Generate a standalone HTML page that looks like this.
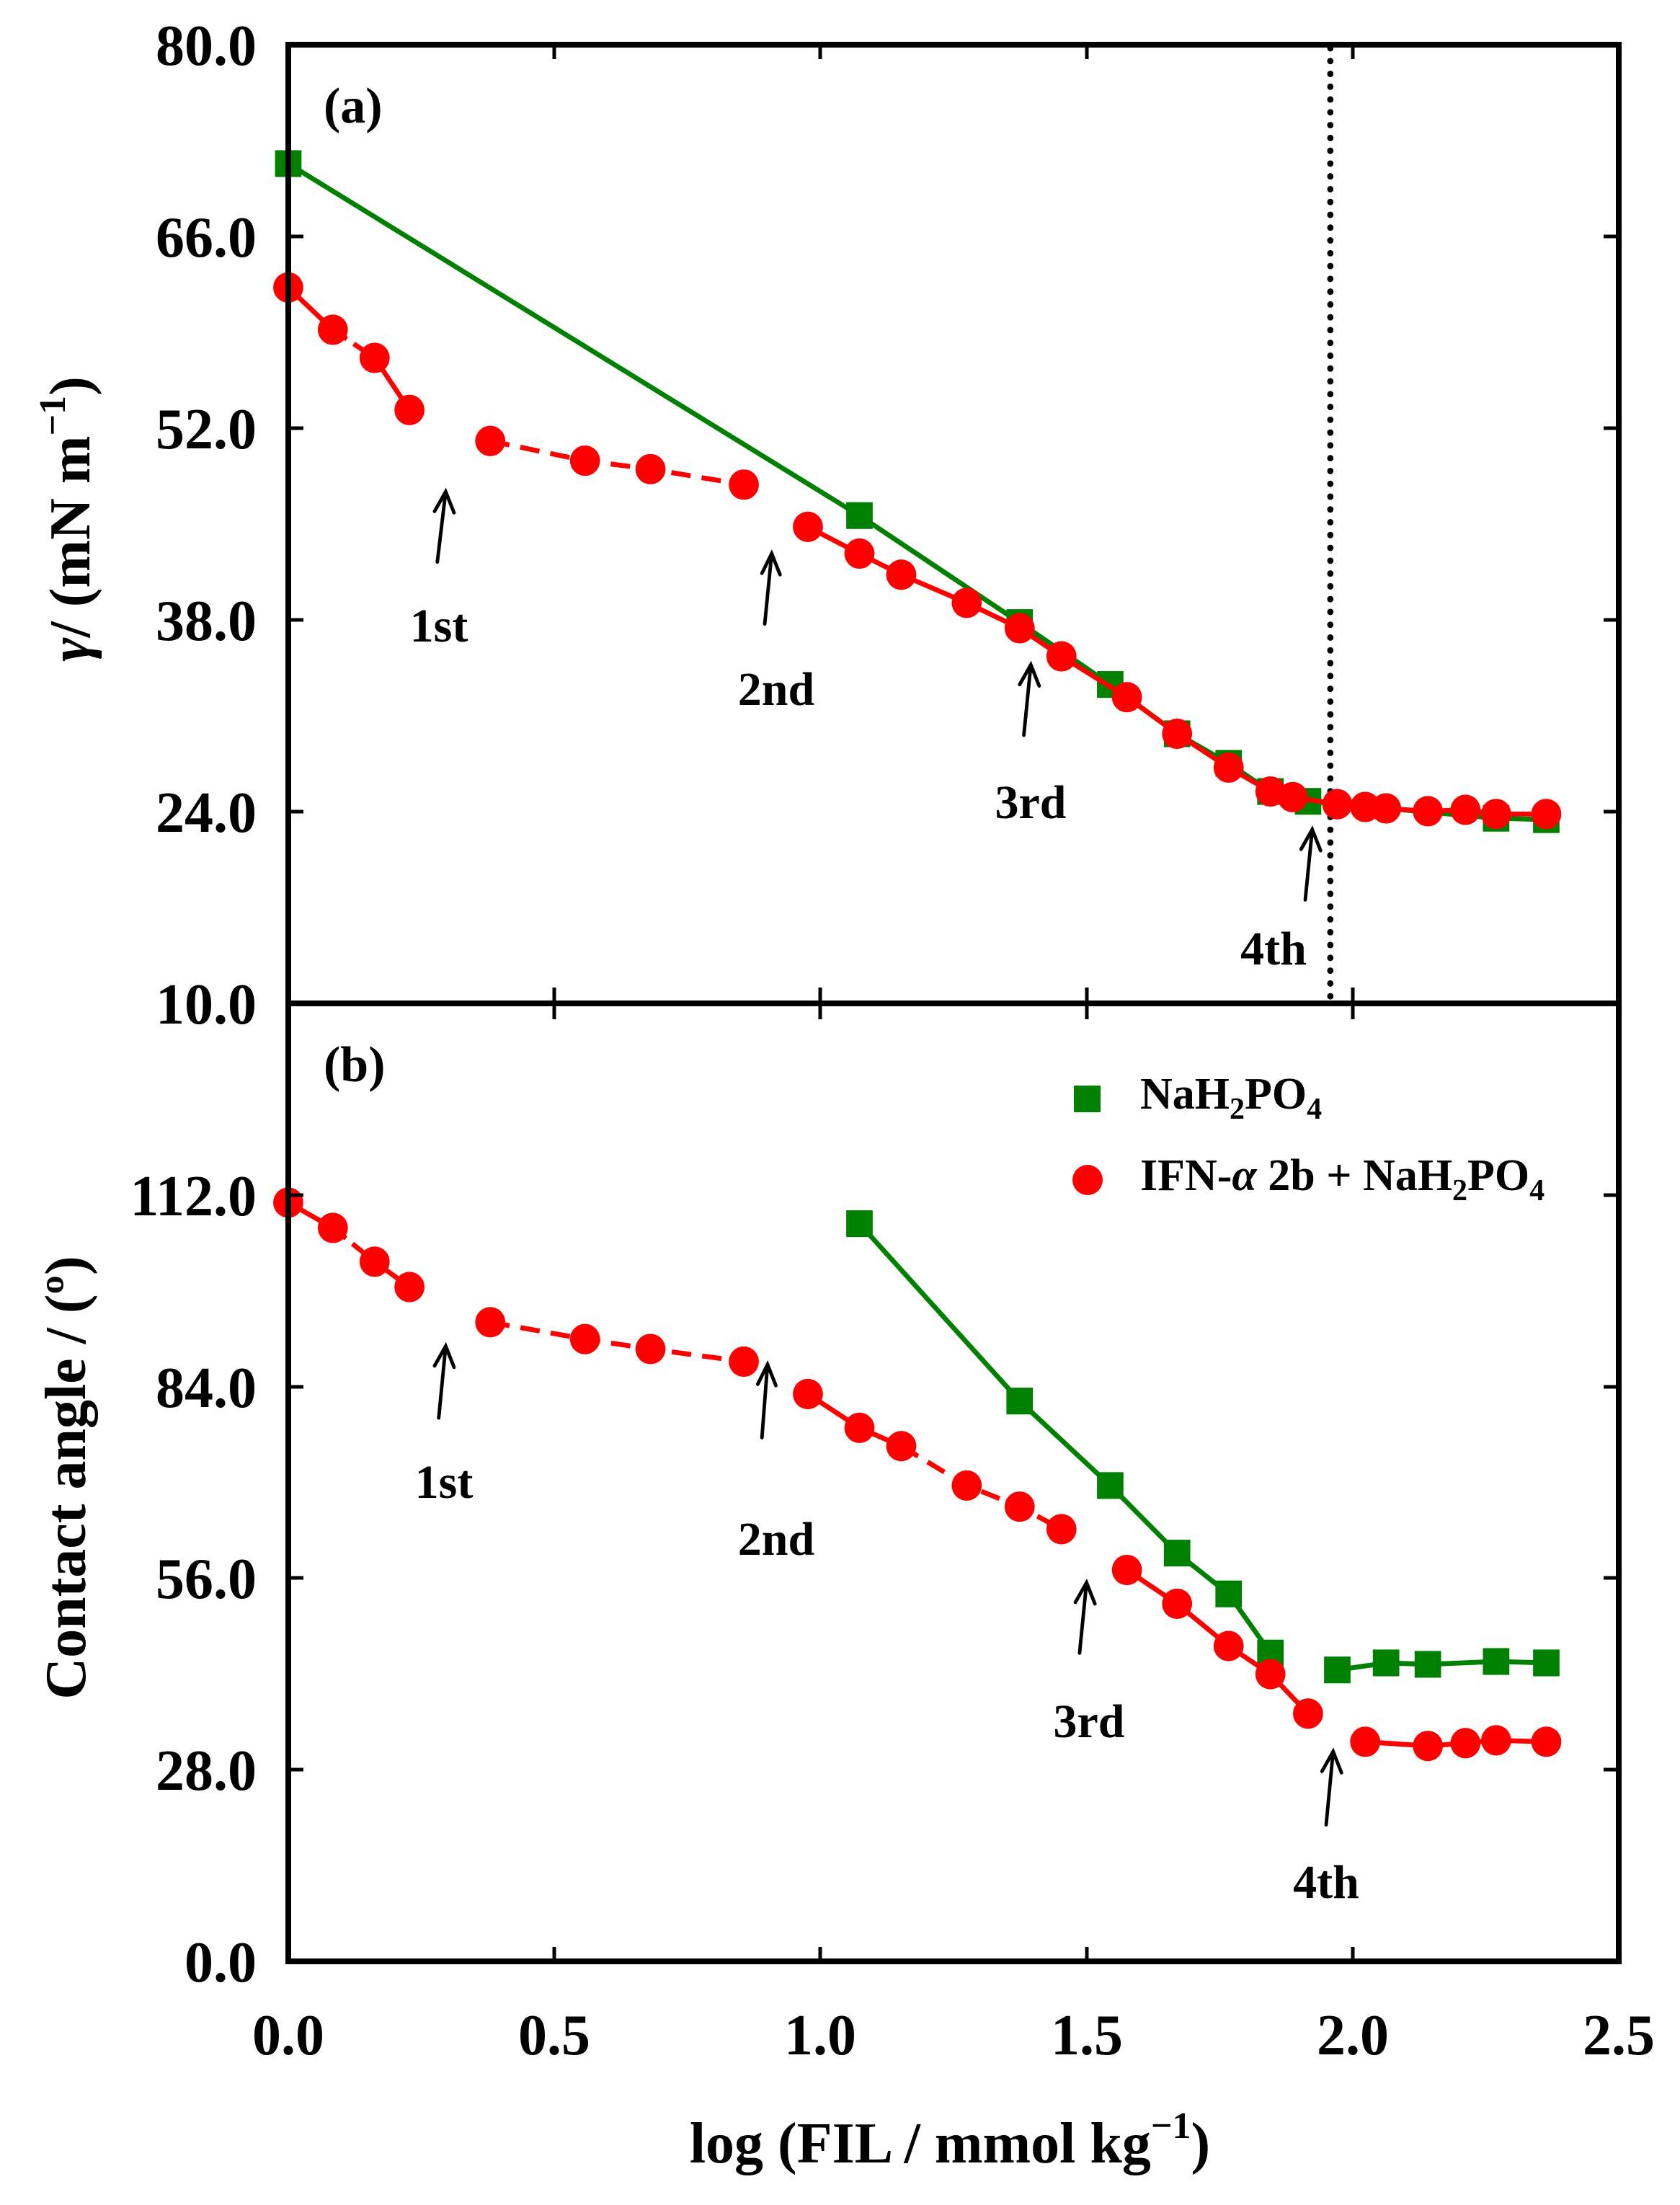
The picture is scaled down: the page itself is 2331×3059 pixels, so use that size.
<!DOCTYPE html>
<html><head><meta charset="utf-8"><style>
html,body{margin:0;padding:0;background:#fff}
svg{display:block}
text{font-family:"Liberation Serif",serif;font-weight:bold;fill:#000}
</style></head><body>
<svg width="2331" height="3059" viewBox="0 0 2331 3059" xmlns="http://www.w3.org/2000/svg">
<rect width="2331" height="3059" fill="#fff"/>

<g transform="matrix(1.933 0 0 1.953 3.7 -1.5)">
 <line x1="953" y1="35" x2="953" y2="713" stroke="#000" stroke-width="4.5" stroke-dasharray="0.1 9" stroke-linecap="round"/>
 <polyline fill="none" stroke="#008000" stroke-width="3.5" points="205,117 615,367 730,443 795,487 843,522 880,543 910,563 937,570 1072,582 1108,583"/>
 <g fill="#008000">
  <rect x="195.5" y="107.5" width="19" height="19"/><rect x="605.5" y="357.5" width="19" height="19"/>
  <rect x="720.5" y="433.5" width="19" height="19"/><rect x="785.5" y="477.5" width="19" height="19"/>
  <rect x="833.5" y="512.5" width="19" height="19"/><rect x="870.5" y="533.5" width="19" height="19"/>
  <rect x="900.5" y="553.5" width="19" height="19"/><rect x="927.5" y="560.5" width="19" height="19"/>
  <rect x="1062.5" y="572.5" width="19" height="19"/><rect x="1098.5" y="573.5" width="19" height="19"/>
 </g>
 <g fill="none" stroke="#f00" stroke-width="3.5">
  <polyline points="205,205 237,235"/>
  <polyline points="237,235 267,255" stroke-dasharray="12 6"/>
  <polyline points="267,255 292,292"/>
  <polyline points="350,314 418,328 465,334 532,345" stroke-dasharray="14 8"/>
  <polyline points="578,375 615,394 645,409 692,429 730,447 760,467 807,496 843,522 880,546 910,563 926,567 958,572 978,574 993,575 1023,577 1050,576 1072,579 1108,579"/>
 </g>
 <g fill="#f00">
  <circle cx="205" cy="205" r="10.8"/><circle cx="237" cy="235" r="10.8"/><circle cx="267" cy="255" r="10.8"/><circle cx="292" cy="292" r="10.8"/>
  <circle cx="350" cy="314" r="10.8"/><circle cx="418" cy="328" r="10.8"/><circle cx="465" cy="334" r="10.8"/><circle cx="532" cy="345" r="10.8"/>
  <circle cx="578" cy="375" r="10.8"/><circle cx="615" cy="394" r="10.8"/><circle cx="645" cy="409" r="10.8"/><circle cx="692" cy="429" r="10.8"/>
  <circle cx="730" cy="447" r="10.8"/><circle cx="760" cy="467" r="10.8"/><circle cx="807" cy="496" r="10.8"/><circle cx="843" cy="522" r="10.8"/>
  <circle cx="880" cy="546" r="10.8"/><circle cx="910" cy="563" r="10.8"/><circle cx="926" cy="567" r="10.8"/><circle cx="958" cy="572" r="10.8"/>
  <circle cx="978" cy="574" r="10.8"/><circle cx="993" cy="575" r="10.8"/><circle cx="1023" cy="577" r="10.8"/><circle cx="1050" cy="576" r="10.8"/>
  <circle cx="1072" cy="579" r="10.8"/><circle cx="1108" cy="579" r="10.8"/>
 </g>

 <g fill="none" stroke="#008000" stroke-width="3.5">
  <polyline points="615,870 730,996 795,1056 843,1104 880,1133 910,1175"/>
  <polyline points="958,1187 993,1182 1023,1183 1072,1181 1108,1182"/>
 </g>
 <g fill="#008000">
  <rect x="605.5" y="860.5" width="19" height="19"/><rect x="720.5" y="986.5" width="19" height="19"/>
  <rect x="785.5" y="1046.5" width="19" height="19"/><rect x="833.5" y="1094.5" width="19" height="19"/>
  <rect x="870.5" y="1123.5" width="19" height="19"/><rect x="900.5" y="1165.5" width="19" height="19"/>
  <rect x="948.5" y="1177.5" width="19" height="19"/><rect x="983.5" y="1172.5" width="19" height="19"/>
  <rect x="1013.5" y="1173.5" width="19" height="19"/><rect x="1062.5" y="1171.5" width="19" height="19"/>
  <rect x="1098.5" y="1172.5" width="19" height="19"/>
 </g>
 <g fill="none" stroke="#f00" stroke-width="3.5">
  <polyline points="205,855 237,873"/>
  <polyline points="237,873 267,897" stroke-dasharray="12 6"/>
  <polyline points="267,897 292,915"/>
  <polyline points="350,940 418,952 465,959 532,968" stroke-dasharray="14 8"/>
  <polyline points="578,991 615,1015 645,1028"/>
  <polyline points="645,1028 692,1056 730,1071 760,1087" stroke-dasharray="14 8"/>
  <polyline points="807,1116 843,1140 880,1170 910,1190 937,1218"/>
  <polyline points="978,1238 1023,1241 1050,1239 1072,1237 1108,1238"/>
 </g>
 <g fill="#f00">
  <circle cx="205" cy="855" r="10.8"/><circle cx="237" cy="873" r="10.8"/><circle cx="267" cy="897" r="10.8"/><circle cx="292" cy="915" r="10.8"/>
  <circle cx="350" cy="940" r="10.8"/><circle cx="418" cy="952" r="10.8"/><circle cx="465" cy="959" r="10.8"/><circle cx="532" cy="968" r="10.8"/>
  <circle cx="578" cy="991" r="10.8"/><circle cx="615" cy="1015" r="10.8"/><circle cx="645" cy="1028" r="10.8"/><circle cx="692" cy="1056" r="10.8"/>
  <circle cx="730" cy="1071" r="10.8"/><circle cx="760" cy="1087" r="10.8"/><circle cx="807" cy="1116" r="10.8"/><circle cx="843" cy="1140" r="10.8"/>
  <circle cx="880" cy="1170" r="10.8"/><circle cx="910" cy="1190" r="10.8"/><circle cx="937" cy="1218" r="10.8"/>
  <circle cx="978" cy="1238" r="10.8"/><circle cx="1023" cy="1241" r="10.8"/><circle cx="1050" cy="1239" r="10.8"/><circle cx="1072" cy="1237" r="10.8"/><circle cx="1108" cy="1238" r="10.8"/>
 </g>

 <g fill="none" stroke="#000" stroke-width="2.5" stroke-linecap="round">
  <path d="M312,400 L318,350 M310,364 L318,350 L324,365"/>
  <path d="M547,444 L552,394 M545,408 L552,394 L558,409"/>
  <path d="M733,523 L738,473 M730,487 L738,473 L744,488"/>
  <path d="M935,640 L940,590 M932,604 L940,590 L946,605"/>
  <path d="M313,1008 L318,957 M310,971 L318,957 L324,972"/>
  <path d="M545,1022 L549,970 M542,984 L549,970 L555,985"/>
  <path d="M773,1175 L778,1125 M770,1139 L778,1125 L784,1140"/>
  <path d="M950,1297 L955,1245 M947,1259 L955,1245 L961,1260"/>
 </g>
</g>

<g stroke="#000" stroke-width="8" fill="none">
 <rect x="400" y="62" width="1846" height="2659"/>
 <line x1="400" y1="1392" x2="2246" y2="1392"/>
</g>
<g stroke="#000" stroke-width="5">
 <path d="M400,328h21M400,594h21M400,860h21M400,1126h21M2246,328h-21M2246,594h-21M2246,860h-21M2246,1126h-21"/>
 <path d="M400,1658h21M400,1924h21M400,2189h21M400,2455h21M2246,1658h-21M2246,1924h-21M2246,2189h-21M2246,2455h-21"/>
 <path d="M769,1370v44M1138,1370v44M1508,1370v44M1877,1370v44"/>
 <path d="M769,2721v-20M1138,2721v-20M1508,2721v-20M1877,2721v-20"/>
 <path d="M769,62v20M1138,62v20M1508,62v20M1877,62v20"/>
</g>

<g font-size="80" text-anchor="end">
 <text x="356" y="90">80.0</text>
 <text x="356" y="356">66.0</text>
 <text x="356" y="622">52.0</text>
 <text x="356" y="888">38.0</text>
 <text x="356" y="1154">24.0</text>
 <text x="356" y="1420">10.0</text>
 <text x="356" y="1686">112.0</text>
 <text x="356" y="1952">84.0</text>
 <text x="356" y="2217">56.0</text>
 <text x="356" y="2483">28.0</text>
 <text x="356" y="2749">0.0</text>
</g>
<g font-size="80" text-anchor="middle">
 <text x="400" y="2850">0.0</text>
 <text x="769" y="2850">0.5</text>
 <text x="1138" y="2850">1.0</text>
 <text x="1508" y="2850">1.5</text>
 <text x="1877" y="2850">2.0</text>
 <text x="2246" y="2850">2.5</text>
</g>
<text x="1318" y="3000" font-size="80" text-anchor="middle">log (FIL / mmol kg<tspan font-size="52" dy="-34">−1</tspan><tspan dy="34">)</tspan></text>
<text transform="translate(124,720) rotate(-90)" font-size="80" text-anchor="middle"><tspan font-style="italic">γ</tspan>/ (mN m<tspan font-size="52" dy="-34">−1</tspan><tspan dy="34">)</tspan></text>
<text transform="translate(118,2050) rotate(-90)" font-size="80" text-anchor="middle">Contact angle / (º)</text>

<text x="449" y="170" font-size="70">(a)</text>
<text x="449" y="1500" font-size="70">(b)</text>

<g font-size="66" text-anchor="middle">
 <text x="609" y="890">1st</text>
 <text x="1077" y="978">2nd</text>
 <text x="1430" y="1135">3rd</text>
 <text x="1767" y="1338">4th</text>
 <text x="616" y="2078">1st</text>
 <text x="1077" y="2157">2nd</text>
 <text x="1511" y="2410">3rd</text>
 <text x="1840" y="2633">4th</text>
</g>

<rect x="1490" y="1506" width="37" height="37" fill="#008000"/>
<circle cx="1509" cy="1637" r="21" fill="#f00"/>
<text x="1582" y="1538" font-size="62">NaH<tspan font-size="42" dy="14">2</tspan><tspan dy="-14">PO</tspan><tspan font-size="42" dy="14">4</tspan></text>
<text x="1582" y="1651" font-size="62">IFN-<tspan font-style="italic">α</tspan> 2b + NaH<tspan font-size="42" dy="14">2</tspan><tspan dy="-14">PO</tspan><tspan font-size="42" dy="14">4</tspan></text>
</svg>
</body></html>
